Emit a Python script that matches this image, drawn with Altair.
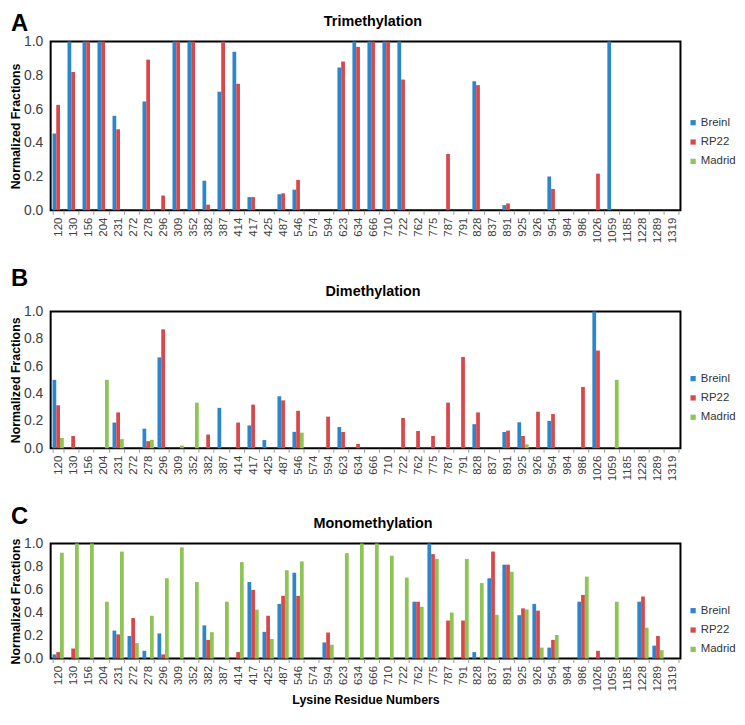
import altair as alt
import pandas as pd

residues = ["120", "130", "156", "204", "231", "272", "278", "296", "309", "352",
            "382", "387", "414", "417", "425", "487", "546", "574", "594", "623",
            "634", "666", "710", "722", "762", "775", "787", "791", "828", "837",
            "891", "925", "926", "954", "984", "986", "1026", "1059", "1185", "1228",
            "1289", "1319"]
series = ["Breinl", "RP22", "Madrid"]
colors = ["#2B86CC", "#D9474A", "#8EC453"]

# Trimethylation
tri_breinl = [0.455, 1.0, 1.0, 1.0, 0.56, 0, 0.645, 0, 1.0, 1.0,
              0.175, 0.703, 0.94, 0.078, 0, 0.095, 0.122, 0, 0, 0.847,
              1.0, 1.0, 1.0, 1.0, 0, 0, 0, 0, 0.765, 0,
              0.03, 0, 0, 0.2, 0, 0, 0, 1.0, 0, 0,
              0, 0]
tri_rp22 = [0.625, 0.82, 1.0, 1.0, 0.48, 0, 0.893, 0.087, 1.0, 1.0,
            0.033, 1.0, 0.75, 0.078, 0, 0.10, 0.18, 0, 0, 0.882,
            0.969, 1.0, 1.0, 0.775, 0, 0, 0.334, 0, 0.742, 0,
            0.04, 0, 0, 0.126, 0, 0, 0.217, 0, 0, 0,
            0, 0]
tri_madrid = [0] * 42

# Dimethylation
di_breinl = [0.5, 0, 0, 0, 0.188, 0, 0.143, 0.664, 0, 0,
             0, 0.295, 0, 0.167, 0.06, 0.38, 0.12, 0, 0, 0.155,
             0, 0, 0, 0, 0, 0, 0, 0, 0.176, 0,
             0.119, 0.19, 0, 0.2, 0, 0, 1.0, 0, 0, 0,
             0, 0]
di_rp22 = [0.314, 0.09, 0, 0, 0.262, 0, 0.052, 0.869, 0, 0,
           0.1, 0, 0.188, 0.319, 0, 0.35, 0.274, 0, 0.231, 0.119,
           0.031, 0, 0, 0.221, 0.126, 0.09, 0.333, 0.667, 0.262, 0,
           0.129, 0.09, 0.267, 0.25, 0, 0.448, 0.714, 0, 0, 0,
           0, 0]
di_madrid = [0.075, 0, 0, 0.5, 0.067, 0, 0.062, 0, 0.02, 0.333,
             0, 0, 0, 0, 0, 0, 0.114, 0, 0, 0,
             0, 0, 0, 0, 0, 0, 0, 0, 0, 0,
             0, 0.029, 0, 0, 0, 0, 0, 0.5, 0, 0,
             0, 0]

# Monomethylation
mono_breinl = [0.036, 0, 0, 0, 0.243, 0.196, 0.067, 0.218, 0, 0,
               0.288, 0, 0, 0.665, 0.232, 0.475, 0.746, 0, 0.14, 0,
               0, 0, 0, 0, 0.494, 1.0, 0, 0, 0.056, 0.698,
               0.816, 0.377, 0.475, 0.095, 0, 0.494, 0, 0, 0, 0.494,
               0.112, 0]
mono_rp22 = [0.056, 0.087, 0, 0, 0.21, 0.352, 0, 0.036, 0, 0,
             0.162, 0, 0.056, 0.597, 0.372, 0.545, 0.545, 0, 0.226, 0,
             0, 0, 0, 0, 0.494, 0.908, 0.33, 0.33, 0, 0.93,
             0.816, 0.436, 0.416, 0.162, 0, 0.553, 0.067, 0, 0, 0.539,
             0.196, 0]
mono_madrid = [0.92, 1.0, 1.0, 0.494, 0.93, 0.134, 0.372, 0.698, 0.966, 0.665,
               0.229, 0.494, 0.838, 0.425, 0.17, 0.768, 0.844, 0, 0.12, 0.916,
               1.0, 1.0, 0.894, 0.704, 0.45, 0.866, 0.4, 0.866, 0.656, 0.38,
               0.754, 0.427, 0.095, 0.204, 0, 0.712, 0, 0.494, 0, 0.268,
               0.073, 0]

FONT = "Liberation Sans"
PLOT_W = 635


def build(b, r, m):
    rows = []
    for name, vals in zip(series, [b, r, m]):
        for res, v in zip(residues, vals):
            rows.append({"residue": res, "series": name, "value": v})
    return pd.DataFrame(rows)


def panel(b, r, m, title, letter, height, letter_y, legend_y, x_title):
    df = build(b, r, m)
    x_axis = alt.Axis(
        labelAngle=-90, labelFontSize=11.5, labelColor="#404040", labelPadding=3,
        labelOverlap=False, tickBand="extent", tickSize=4, tickColor="#9a9a9a",
        domain=False, grid=False, labelFont=FONT, titleFont=FONT,
        titleFontSize=12.5, titleFontWeight="bold", titleColor="black", titlePadding=3,
    )
    bars = alt.Chart(df).mark_bar().encode(
        x=alt.X("residue:N", sort=residues,
                scale=alt.Scale(paddingInner=0.25, paddingOuter=0.125),
                axis=x_axis, title=x_title if x_title else None),
        xOffset=alt.XOffset("series:N", sort=series,
                            scale=alt.Scale(domain=series, paddingInner=0, paddingOuter=0)),
        y=alt.Y("value:Q", scale=alt.Scale(domain=[0, 1], nice=False),
                axis=alt.Axis(values=[0, 0.2, 0.4, 0.6, 0.8, 1.0], format=".1f",
                              labelFontSize=14, labelColor="#404040", ticks=False,
                              tickSize=0, labelPadding=8, domain=False, grid=False,
                              labelFont=FONT, titleFont=FONT, titleFontSize=12.5,
                              titleFontWeight="bold", titleColor="black", titlePadding=1),
                title="Normalized Fractions"),
        color=alt.Color("series:N", sort=series,
                        scale=alt.Scale(domain=series, range=colors),
                        legend=alt.Legend(title=None, orient="none", legendX=642,
                                          legendY=legend_y, symbolType="square",
                                          symbolSize=28, symbolStrokeWidth=0,
                                          labelFontSize=11.5, labelColor="#333333",
                                          labelFont=FONT, labelOffset=2,
                                          rowPadding=6.5, padding=0)),
    )
    annot = alt.Chart(alt.Data(values=[{"letter": letter, "title": title}]))
    letter_mark = annot.mark_text(font=FONT, fontSize=24, fontWeight="bold",
                                  align="left", baseline="top", color="black").encode(
        x=alt.value(-40), y=alt.value(letter_y), text="letter:N")
    title_mark = annot.mark_text(font=FONT, fontSize=14.5, fontWeight="bold",
                                 align="center", baseline="middle", color="black").encode(
        x=alt.value(325), y=alt.value(-20), text="title:N")
    return alt.layer(bars, letter_mark, title_mark).properties(width=PLOT_W, height=height)


pA = panel(tri_breinl, tri_rp22, tri_madrid, "Trimethylation", "A", 170, -30, 76, None)
pB = panel(di_breinl, di_rp22, di_madrid, "Dimethylation", "B", 138, -45, 62, None)
pC = panel(mono_breinl, mono_rp22, mono_madrid, "Monomethylation", "C", 116, -39, 62,
           "Lysine Residue Numbers")

chart = alt.vconcat(pA, pB, pC, spacing=22).resolve_legend(color="independent").properties(
    padding={"left": 0, "top": 0, "right": 0, "bottom": 0}
).configure(font=FONT).configure_view(stroke="black", strokeWidth=2)

chart.save("out.html", embed_options={"renderer": "svg", "actions": False})
